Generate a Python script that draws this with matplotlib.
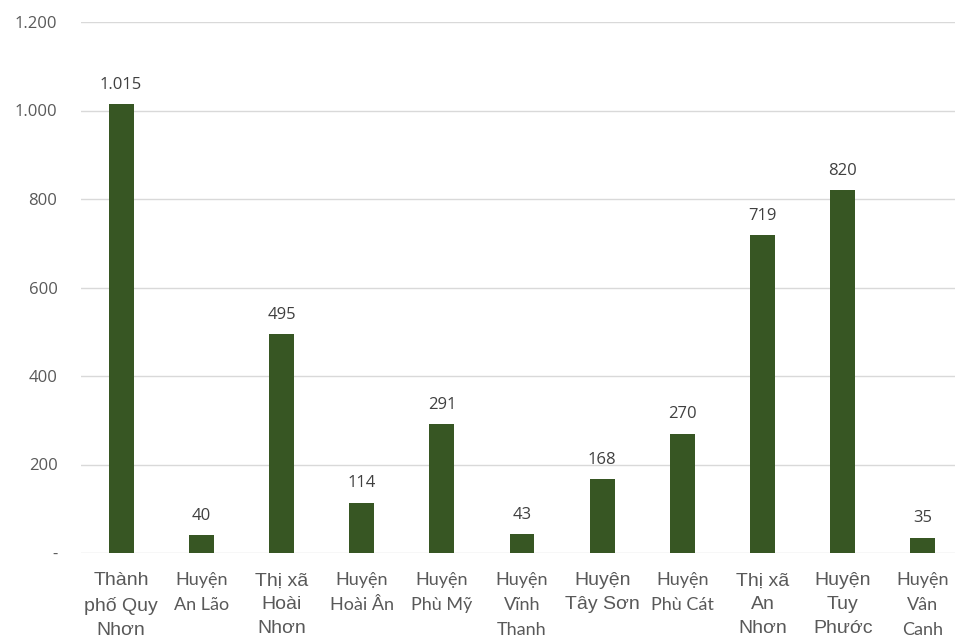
import matplotlib
matplotlib.use("Agg")
import matplotlib.pyplot as plt
import matplotlib.ticker as mticker

categories = ["Thành\nphố Quy\nNhơn", "Huyện\nAn Lão", "Thị xã\nHoài\nNhơn", "Huyện\nHoài Ân",
              "Huyện\nPhù Mỹ", "Huyện\nVĩnh\nThanh", "Huyện\nTây Sơn", "Huyện\nPhù Cát",
              "Thị xã\nAn\nNhơn", "Huyện\nTuy\nPhước", "Huyện\nVân\nCanh"]
values = [1015, 40, 495, 114, 291, 43, 168, 270, 719, 820, 35]
large_label = [True, False, True, False, False, False, True, False, True, True, False]
y_ticks = [0, 200, 400, 600, 800, 1000, 1200]

bar_color = "#375623"

fig = plt.figure(figsize=(9.55, 6.39), dpi=100)
ax = fig.add_axes([81/955, (639-553)/639, 882/955, 531/639])

x = list(range(len(categories)))
ax.bar(x, values, width=0.31, color=bar_color, zorder=3)
ax.set_xlim(-0.5, len(categories) - 0.5)
ax.set_ylim(0, 1200)

def fmt(v, pos=None):
    if v == 0:
        return "-"
    return f"{int(v):,}".replace(",", ".")

ax.set_yticks(y_ticks)
ax.yaxis.set_major_formatter(mticker.FuncFormatter(fmt))
ax.tick_params(axis="y", length=0, pad=17, labelsize=12, labelcolor="#595959")
for t in ax.get_yticklabels():
    t.set_fontfamily("Open Sans")
ax.grid(axis="y", color="#d9d9d9", linewidth=1, zorder=0)
for s in ax.spines.values():
    s.set_visible(False)

ax.set_xticks(x)
ax.set_xticklabels(categories)
ax.tick_params(axis="x", length=0, pad=14, labelcolor="#595959")
for t, big in zip(ax.get_xticklabels(), large_label):
    if big:
        t.set_fontfamily("Liberation Sans")
        t.set_fontsize(14)
        t.set_linespacing(1.53)
    else:
        t.set_fontfamily("Lato")
        t.set_fontsize(13)
        t.set_linespacing(1.68)

for xi, v in zip(x, values):
    ax.annotate(fmt(v), (xi, v), xytext=(0, 8), textcoords="offset points",
                ha="center", va="bottom", fontsize=12, color="#404040",
                family="Open Sans")

fig.savefig("out.png", dpi=100)
